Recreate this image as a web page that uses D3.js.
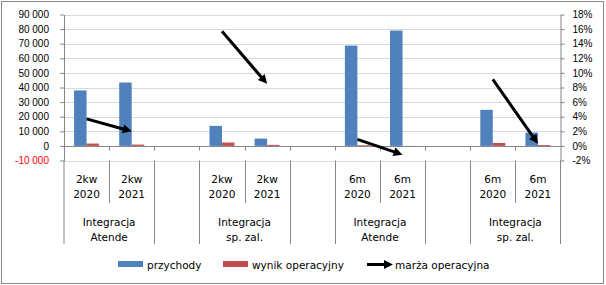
<!DOCTYPE html>
<html>
<head>
<meta charset="utf-8">
<script src="https://cdn.jsdelivr.net/npm/d3@7"></script>
<style>
  body { margin: 0; background: #fff; }
  svg { display: block; font-family: "DejaVu Sans", Verdana, sans-serif; font-size: 10.5px; }
</style>
</head>
<body>
<script>
// categories (inner level, two lines) and outer groups
var catTop  = ['2kw', '2kw', '', '2kw', '2kw', '', '6m', '6m', '', '6m', '6m'];
var catYear = ['2020', '2021', '', '2020', '2021', '', '2020', '2021', '', '2020', '2021'];
var groupLine1 = ['Integracja', '', 'Integracja', '', 'Integracja', '', 'Integracja'];
var groupLine2 = ['Atende', '', 'sp. zal.', '', 'Atende', '', 'sp. zal.'];
var groupSize  = [2, 1, 2, 1, 2, 1, 2];

// series
var przychody = [38000, 43400, null, 13700, 5000, null, 68700, 79000, null, 24700, 9100];
var wynik     = [1600, 900, null, 2300, 700, null, 500, -300, null, 2000, 600];
var marza     = [3.7, 2.0, null, 15.7, 8.5, null, 0.9, -1.2, null, 9.1, 0.3];

var leftTicks  = d3.range(-10000, 90001, 10000);
var rightTicks = d3.range(-2, 18.1, 2);

var W = 606, H = 285;
var plotL = 64, plotR = 560.5, plotT = 14.5, plotB = 160.5, labelB = 244;
var blue = '#4F81BD', red = '#C0504D', axisGray = '#868686', gridGray = '#D9D9D9';

var svg = d3.select('body').append('svg').attr('width', W).attr('height', H);

// chart frame
svg.append('rect')
    .attr('x', 1.5).attr('y', 1.5).attr('width', 602).attr('height', 282)
    .attr('fill', 'none').attr('stroke', axisGray);

var idx = d3.range(catTop.length);
var x = d3.scaleBand().domain(idx).range([plotL, plotR]).padding(0);
var xSub = d3.scaleBand().domain([0, 1]).range([-12.5, 12.5]);
var y = d3.scaleLinear().domain([-10000, 90000]).range([plotB, plotT]);
var y2 = d3.scaleLinear().domain([-2, 18]).range([plotB, plotT]);

var loc = d3.formatLocale({ decimal: ',', thousands: ' ', grouping: [3], currency: ['', ''], minus: '-' });
var fmt = loc.format(',d');

// gridlines
svg.append('g').selectAll('line').data(leftTicks).join('line')
    .attr('x1', plotL).attr('x2', plotR)
    .attr('y1', function (d) { return Math.round(y(d)) + 0.5; })
    .attr('y2', function (d) { return Math.round(y(d)) + 0.5; })
    .attr('stroke', gridGray);

// bars
var bars = svg.append('g');
function drawSeries(values, sub, color) {
    bars.selectAll(null).data(idx.filter(function (i) { return values[i] != null; })).join('rect')
        .attr('x', function (i) { return x(i) + x.bandwidth() / 2 + xSub(sub); })
        .attr('width', xSub.bandwidth())
        .attr('y', function (i) { return Math.min(y(values[i]), y(0)); })
        .attr('height', function (i) { return Math.abs(y(values[i]) - y(0)); })
        .attr('fill', color);
}
drawSeries(przychody, 0, blue);
drawSeries(wynik, 1, red);

// baseline at 0 with tick marks
var y0 = Math.round(y(0)) + 0.5;
svg.append('line').attr('x1', plotL).attr('x2', plotR).attr('y1', y0).attr('y2', y0).attr('stroke', axisGray);
svg.append('g').selectAll('line').data(idx.slice(1)).join('line')
    .attr('x1', function (i) { return Math.round(x(i)) + 0.5; })
    .attr('x2', function (i) { return Math.round(x(i)) + 0.5; })
    .attr('y1', y0).attr('y2', y0 + 4)
    .attr('stroke', axisGray);

// left axis
var axL = svg.append('g').attr('transform', 'translate(' + plotL + ',0)')
    .call(d3.axisLeft(y).tickValues(leftTicks).tickFormat(fmt).tickSize(4).tickSizeOuter(0).tickPadding(11));
axL.selectAll('path, line').attr('stroke', axisGray);
axL.selectAll('text').attr('font-family', null).attr('font-size', null)
    .attr('fill', function (d) { return d < 0 ? '#FF0000' : '#000'; });

// right axis
var axR = svg.append('g').attr('transform', 'translate(' + plotR + ',0)')
    .call(d3.axisRight(y2).tickValues(rightTicks).tickFormat(function (d) { return d + '%'; })
        .tickSize(4).tickSizeOuter(0).tickPadding(8));
axR.selectAll('path, line').attr('stroke', axisGray);
axR.selectAll('text').attr('font-family', null).attr('font-size', null).attr('fill', '#000');

// axis lines continue through the label area
[plotL, plotR].forEach(function (px) {
    svg.append('line').attr('x1', px).attr('x2', px).attr('y1', plotB).attr('y2', labelB).attr('stroke', axisGray);
});

// multi-level category separators
var groupEnds = [];
groupSize.reduce(function (acc, n) { groupEnds.push(acc + n); return acc + n; }, 0);
svg.append('g').selectAll('line').data(idx.slice(1)).join('line')
    .attr('x1', function (i) { return Math.round(x(i)) + 0.5; })
    .attr('x2', function (i) { return Math.round(x(i)) + 0.5; })
    .attr('y1', plotB)
    .attr('y2', function (i) { return groupEnds.indexOf(i) >= 0 ? labelB : 203; })
    .attr('stroke', axisGray);

// inner labels
var lab = svg.append('g').attr('text-anchor', 'middle').attr('fill', '#000');
idx.forEach(function (i) {
    var cx = x(i) + x.bandwidth() / 2;
    lab.append('text').attr('x', cx).attr('y', 183).text(catTop[i]);
    lab.append('text').attr('x', cx).attr('y', 198).text(catYear[i]);
});
// outer labels
var start = 0;
groupSize.forEach(function (n, g) {
    var cx = (x(start) + x(start + n - 1) + x.bandwidth()) / 2;
    lab.append('text').attr('x', cx).attr('y', 226).text(groupLine1[g]);
    lab.append('text').attr('x', cx).attr('y', 241).text(groupLine2[g]);
    start += n;
});

// arrow helper
function arrow(parent, x1, y1, x2, y2) {
    var dx = x2 - x1, dy = y2 - y1, len = Math.sqrt(dx * dx + dy * dy);
    var ux = dx / len, uy = dy / len, hl = 9, hw = 4.5;
    var bx = x2 - ux * hl, by = y2 - uy * hl;
    parent.append('line').attr('x1', x1).attr('y1', y1).attr('x2', bx + ux).attr('y2', by + uy)
        .attr('stroke', '#000').attr('stroke-width', 3);
    parent.append('path')
        .attr('d', 'M' + x2 + ',' + y2 + 'L' + (bx - uy * hw) + ',' + (by + ux * hw) +
            'L' + (bx + uy * hw) + ',' + (by - ux * hw) + 'Z')
        .attr('fill', '#000');
}

// margin series: one arrow per group
var arrows = svg.append('g');
start = 0;
groupSize.forEach(function (n) {
    if (n > 1 && marza[start] != null) {
        var a = start, b = start + n - 1;
        arrow(arrows, x(a) + x.bandwidth() / 2, y2(marza[a]), x(b) + x.bandwidth() / 2, y2(marza[b]));
    }
    start += n;
});

// legend
var leg = svg.append('g');
leg.append('rect').attr('x', 118).attr('y', 261).attr('width', 25).attr('height', 6).attr('fill', blue);
leg.append('text').attr('x', 147).attr('y', 269).text('przychody');
leg.append('rect').attr('x', 223).attr('y', 261).attr('width', 25).attr('height', 6).attr('fill', red);
leg.append('text').attr('x', 252).attr('y', 269).text('wynik operacyjny');
arrow(leg, 367, 264.5, 393, 264.5);
leg.append('text').attr('x', 395).attr('y', 269).text('marża operacyjna');
</script>
</body>
</html>
